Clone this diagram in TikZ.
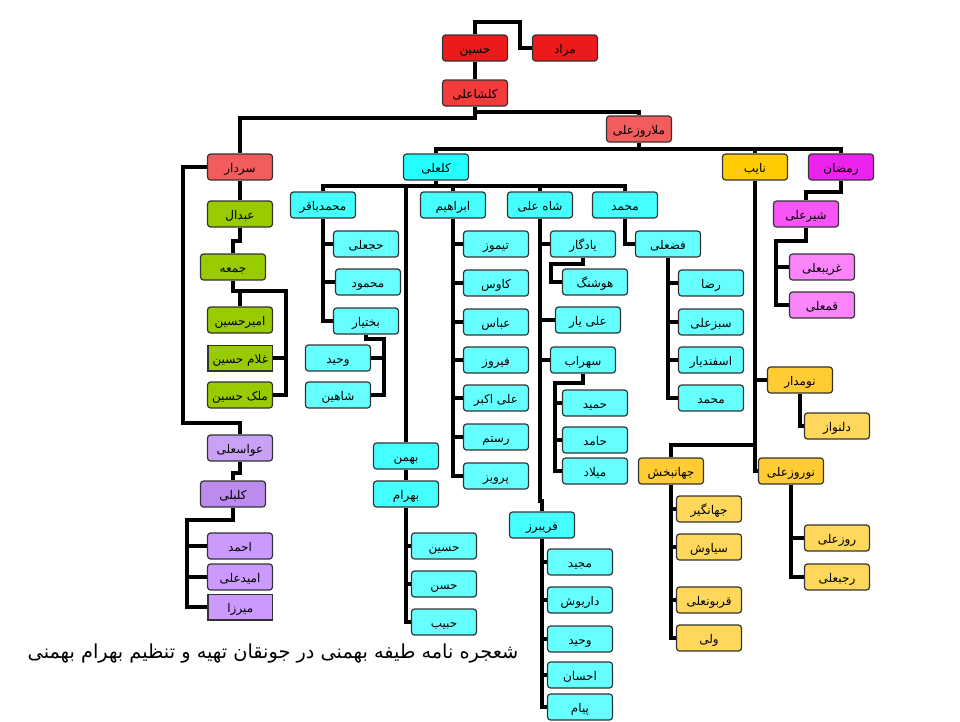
\documentclass[tikz,border=0pt]{standalone}
\usepackage{fontspec}
\usetikzlibrary{backgrounds}
\newfontfamily\arabicfont[Script=Arabic]{DejaVu Sans}
\TeXXeTstate=1
\newcommand{\fa}[1]{\beginR #1\endR}
\definecolor{redtop}{HTML}{EC1A1A}
\definecolor{redmid}{HTML}{F23C3C}
\definecolor{redlow}{HTML}{F25C5C}
\definecolor{cyanA}{HTML}{22FFFF}
\definecolor{cyanB}{HTML}{45FFFF}
\definecolor{cyanC}{HTML}{66FFFF}
\definecolor{greenA}{HTML}{99CC00}
\definecolor{purpleA}{HTML}{C9A2F5}
\definecolor{purpleB}{HTML}{BB8BEE}
\definecolor{purpleC}{HTML}{CC99FF}
\definecolor{yellowA}{HTML}{FFCC00}
\definecolor{yellowB}{HTML}{FFCC33}
\definecolor{yellowC}{HTML}{FFD75A}
\definecolor{pinkA}{HTML}{EE22EE}
\definecolor{pinkB}{HTML}{F855F8}
\definecolor{pinkC}{HTML}{FA85FA}

\begin{document}
\begin{tikzpicture}[x=1pt, y=-1pt,
    personbase/.style={draw=black!80, line width=1.2pt, minimum width=65pt,
        minimum height=26pt, inner sep=0pt, text height=11pt, text depth=0pt,
        font=\arabicfont\fontsize{12}{14}\selectfont},
    person/.style={personbase, rounded corners=3pt},
    squareperson/.style={personbase, line width=1.6pt, minimum width=64.6pt, minimum height=25.6pt},
    redbox/.style={person, fill=redtop},
    redbox2/.style={person, fill=redmid},
    redbox3/.style={person, fill=redlow},
    cyanbox/.style={person, fill=cyanA},
    cyanbox2/.style={person, fill=cyanB},
    cyanbox3/.style={person, fill=cyanC},
    greenbox/.style={person, fill=greenA},
    greensq/.style={squareperson, fill=greenA},
    purplebox/.style={person, fill=purpleA},
    purplebox2/.style={person, fill=purpleB},
    purplebox3/.style={person, fill=purpleC},
    purplesq/.style={squareperson, fill=purpleC},
    yellowbox/.style={person, fill=yellowA},
    yellowbox2/.style={person, fill=yellowB},
    yellowbox3/.style={person, fill=yellowC},
    pinkbox/.style={person, fill=pinkA},
    pinkbox2/.style={person, fill=pinkB},
    pinkbox3/.style={person, fill=pinkC},
    link/.style={line width=4pt}]
    \useasboundingbox (0,0) rectangle (960,721);

    % top of the tree
    \node[redbox] (hossein) at (475,48) {\fa{حسین}};
    \node[redbox] (morad) at (565,48) {\fa{مراد}};
    \node[redbox2] (kalshaali) at (475,93) {\fa{کلشاعلی}};
    \node[redbox3] (mollaroozali) at (639,129) {\fa{ملاروزعلی}};
    \node[redbox3] (sardar) at (240,167) {\fa{سردار}};
    \node[cyanbox] (kalali) at (436,167) {\fa{کلعلی}};
    \node[yellowbox] (nayeb) at (755,167) {\fa{نایب}};
    \node[pinkbox] (ramezan) at (841,167) {\fa{رمضان}};

    % sardar
    \node[greenbox] (abdal) at (240,214) {\fa{عبدال}};
    \node[greenbox] (jomeh) at (233,267) {\fa{جمعه}};
    \node[greenbox] (amirhossein) at (240,320) {\fa{امیرحسین}};
    \node[greensq] (gholamhossein) at (240.3,358.3) {\fa{غلام حسین}};
    \node[greenbox] (malekhossein) at (240,395) {\fa{ملک حسین}};
    \node[purplebox] (avasali) at (240,448) {\fa{عواسعلی}};
    \node[purplebox2] (kalbali) at (233,494) {\fa{کلبلی}};
    \node[purplebox3] (ahmad) at (240,546) {\fa{احمد}};
    \node[purplebox3] (omidali) at (240,577) {\fa{امیدعلی}};
    \node[purplesq] (mirza) at (240.3,607.3) {\fa{میرزا}};

    % kalali
    \node[cyanbox2] (mbagher) at (323,205) {\fa{محمدباقر}};
    \node[cyanbox2] (ebrahim) at (453,205) {\fa{ابراهیم}};
    \node[cyanbox2] (shahali) at (540,205) {\fa{شاه علی}};
    \node[cyanbox2] (mohammad) at (625,205) {\fa{محمد}};
    \node[cyanbox3] (hajali) at (366,244) {\fa{حجعلی}};
    \node[cyanbox3] (mahmoud) at (368,282) {\fa{محمود}};
    \node[cyanbox3] (bakhtiar) at (366,321) {\fa{بختیار}};
    \node[cyanbox3] (vahid) at (338,358) {\fa{وحید}};
    \node[cyanbox3] (shahin) at (338,395) {\fa{شاهین}};
    \node[cyanbox3] (teymuz) at (496,244) {\fa{تیموز}};
    \node[cyanbox3] (kavus) at (496,283) {\fa{کاوس}};
    \node[cyanbox3] (abbas) at (496,322) {\fa{عباس}};
    \node[cyanbox3] (firuz) at (496,360) {\fa{فیروز}};
    \node[cyanbox3] (aliakbar) at (496,398) {\fa{علی اکبر}};
    \node[cyanbox3] (rostam) at (496,437) {\fa{رستم}};
    \node[cyanbox3] (parviz) at (496,476) {\fa{پرویز}};
    \node[cyanbox3] (yadegar) at (583,244) {\fa{یادگار}};
    \node[cyanbox3] (hushang) at (595,282) {\fa{هوشنگ}};
    \node[cyanbox3] (aliyar) at (588,320) {\fa{علی یار}};
    \node[cyanbox3] (sohrab) at (583,360) {\fa{سهراب}};
    \node[cyanbox3] (hamid) at (595,403) {\fa{حمید}};
    \node[cyanbox3] (hamed) at (595,440) {\fa{حامد}};
    \node[cyanbox3] (milad) at (595,471) {\fa{میلاد}};
    \node[cyanbox2] (fariborz) at (542,525) {\fa{فریبرز}};
    \node[cyanbox3] (majid) at (580,562) {\fa{مجید}};
    \node[cyanbox3] (dariush) at (580,600) {\fa{داریوش}};
    \node[cyanbox3] (vahidb) at (580,639) {\fa{وحید}};
    \node[cyanbox3] (ehsan) at (580,675) {\fa{احسان}};
    \node[cyanbox3] (payam) at (580,707) {\fa{پیام}};
    \node[cyanbox3] (fazali) at (668,244) {\fa{فضعلی}};
    \node[cyanbox3] (reza) at (711,283) {\fa{رضا}};
    \node[cyanbox3] (sabzali) at (711,322) {\fa{سبزعلی}};
    \node[cyanbox3] (esfandiar) at (711,360) {\fa{اسفندیار}};
    \node[cyanbox3] (mohammadb) at (711,398) {\fa{محمد}};
    \node[cyanbox2] (bahman) at (406,456) {\fa{بهمن}};
    \node[cyanbox2] (bahram) at (406,494) {\fa{بهرام}};
    \node[cyanbox3] (hosseinb) at (444,546) {\fa{حسین}};
    \node[cyanbox3] (hasan) at (444,584) {\fa{حسن}};
    \node[cyanbox3] (habib) at (444,622) {\fa{حبیب}};

    % nayeb
    \node[yellowbox2] (nomdar) at (800,380) {\fa{نومدار}};
    \node[yellowbox3] (delnavaz) at (837,426) {\fa{دلنواز}};
    \node[yellowbox2] (jahanbakhsh) at (671,471) {\fa{جهانبخش}};
    \node[yellowbox3] (jahangir) at (709,509) {\fa{جهانگیر}};
    \node[yellowbox3] (siavash) at (709,547) {\fa{سیاوش}};
    \node[yellowbox3] (ghorbonali) at (709,600) {\fa{قربونعلی}};
    \node[yellowbox3] (vali) at (709,638) {\fa{ولی}};
    \node[yellowbox2] (nowruzali) at (791,471) {\fa{نوروزعلی}};
    \node[yellowbox3] (roozali) at (837,538) {\fa{روزعلی}};
    \node[yellowbox3] (rajabali) at (837,577) {\fa{رجبعلی}};

    % ramezan
    \node[pinkbox2] (shirali) at (806,214) {\fa{شیرعلی}};
    \node[pinkbox3] (gharibali) at (822,267) {\fa{غریبعلی}};
    \node[pinkbox3] (ghomali) at (822,305) {\fa{قمعلی}};

    \node[font=\arabicfont\fontsize{19.3}{22}\selectfont] (caption) at (273,654)
        {\fa{شعجره نامه طیفه بهمنی در جونقان تهیه و تنظیم بهرام بهمنی}};

    \begin{scope}[on background layer]
    \draw[link] (hossein.north) |- (520,22) |- (morad.west);
    \draw[link] (hossein.south) -- (kalshaali.north);
    \draw[link] (kalshaali.south) -- ++(0,5) -| (mollaroozali.north);
    \draw[link] (kalshaali.south) -- ++(0,11) -| (sardar.north);
    \draw[link] (mollaroozali.south) -- ++(0,6) coordinate (mline);
    \draw[link] (kalali.north) |- (mline) -| (ramezan.north);
    \draw[link] (nayeb.north) -- (nayeb.north |- mline);

    % sardar's line
    \draw[link] (sardar.south) -- (abdal.north);
    \draw[link] (abdal.south) -- ++(0,13) -| (jomeh.north);
    \draw[link] (jomeh.south) -- ++(0,10) -| (amirhossein.north);
    \draw[link] (jomeh.south) -- ++(0,10) -| ([xshift=13pt]malekhossein.east) -- (malekhossein.east);
    \draw[link] (gholamhossein.east) -- ++(13,0);
    \draw[link] (sardar.west) -| (183,423) -| (avasali.north);
    \draw[link] (avasali.south) -- ++(0,11) -| (kalbali.north);
    \draw[link] (kalbali.south) -- ++(0,12) -| ([xshift=-20pt]mirza.west) -- (mirza.west);
    \draw[link] (ahmad.west) -- ++(-20,0);
    \draw[link] (omidali.west) -- ++(-20,0);

    % kalali's line
    \draw[link] (kalali.south) -- ++(0,5) coordinate (kline);
    \draw[link] (mbagher.north) |- (kline) -| (mohammad.north);
    \draw[link] (ebrahim.north) -- (ebrahim.north |- kline);
    \draw[link] (shahali.north) -- (shahali.north |- kline);
    \draw[link] (bahman.north) -- (bahman.north |- kline);

    \draw[link] (mbagher.south) |- (bakhtiar.west);
    \draw[link] (hajali.west) -- (hajali.west -| mbagher.south);
    \draw[link] (mahmoud.west) -- (mahmoud.west -| mbagher.south);
    \draw[link] (bakhtiar.south) -- ++(0,4) -| ([xshift=13pt]shahin.east) -- (shahin.east);
    \draw[link] (vahid.east) -- ++(13,0);

    \draw[link] (ebrahim.south) |- (parviz.west);
    \draw[link] (teymuz.west) -- (teymuz.west -| ebrahim.south);
    \draw[link] (kavus.west) -- (kavus.west -| ebrahim.south);
    \draw[link] (abbas.west) -- (abbas.west -| ebrahim.south);
    \draw[link] (firuz.west) -- (firuz.west -| ebrahim.south);
    \draw[link] (aliakbar.west) -- (aliakbar.west -| ebrahim.south);
    \draw[link] (rostam.west) -- (rostam.west -| ebrahim.south);

    \draw[link] (shahali.south) -- ++(0,282) -| (fariborz.north);
    \draw[link] (yadegar.west) -- (yadegar.west -| shahali.south);
    \draw[link] (aliyar.west) -- (aliyar.west -| shahali.south);
    \draw[link] (sohrab.west) -- (sohrab.west -| shahali.south);
    \draw[link] (yadegar.south) -- ++(0,6) -| ([xshift=-11pt]hushang.west) -- (hushang.west);
    \draw[link] (sohrab.south) -- ++(0,9) -| ([xshift=-7pt]milad.west) -- (milad.west);
    \draw[link] (hamid.west) -- ++(-7,0);
    \draw[link] (hamed.west) -- ++(-7,0);

    \draw[link] (fariborz.south) |- (payam.west);
    \draw[link] (majid.west) -- (majid.west -| fariborz.south);
    \draw[link] (dariush.west) -- (dariush.west -| fariborz.south);
    \draw[link] (vahidb.west) -- (vahidb.west -| fariborz.south);
    \draw[link] (ehsan.west) -- (ehsan.west -| fariborz.south);

    \draw[link] (mohammad.south) |- (fazali.west);
    \draw[link] (fazali.south) |- (mohammadb.west);
    \draw[link] (reza.west) -- (reza.west -| fazali.south);
    \draw[link] (sabzali.west) -- (sabzali.west -| fazali.south);
    \draw[link] (esfandiar.west) -- (esfandiar.west -| fazali.south);

    \draw[link] (bahman.south) -- (bahram.north);
    \draw[link] (bahram.south) |- (habib.west);
    \draw[link] (hosseinb.west) -- (hosseinb.west -| bahram.south);
    \draw[link] (hasan.west) -- (hasan.west -| bahram.south);

    % nayeb's line
    \draw[link] (nayeb.south) |- (nowruzali.west);
    \draw[link] (nomdar.west) -- (nomdar.west -| nayeb.south);
    \draw[link] (nomdar.south) |- (delnavaz.west);
    \draw[link] (jahanbakhsh.north) |- ([yshift=12pt]jahanbakhsh.north -| nayeb.south);
    \draw[link] (jahanbakhsh.south) |- (vali.west);
    \draw[link] (jahangir.west) -- (jahangir.west -| jahanbakhsh.south);
    \draw[link] (siavash.west) -- (siavash.west -| jahanbakhsh.south);
    \draw[link] (ghorbonali.west) -- (ghorbonali.west -| jahanbakhsh.south);
    \draw[link] (nowruzali.south) |- (rajabali.west);
    \draw[link] (roozali.west) -- (roozali.west -| nowruzali.south);

    % ramezan's line
    \draw[link] (ramezan.south) -- ++(0,11) -| (shirali.north);
    \draw[link] (shirali.south) -- ++(0,13) -| ([xshift=-13pt]ghomali.west) -- (ghomali.west);
    \draw[link] (gharibali.west) -- ++(-13,0);
    \end{scope}
\end{tikzpicture}
\end{document}
